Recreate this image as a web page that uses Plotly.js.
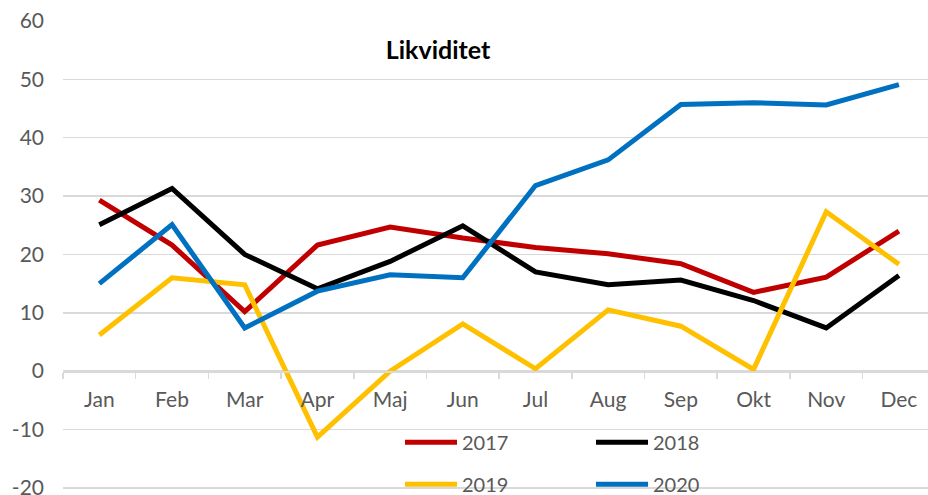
<!DOCTYPE html>
<html>
<head>
<meta charset="utf-8">
<script src="https://cdn.plot.ly/plotly-3.0.1.min.js"></script>
<style>html,body{margin:0;padding:0;background:#fff;}#chart{width:928px;height:495px;}</style>
</head>
<body>
<div id="chart"></div>
<script>
const months = ['Jan','Feb','Mar','Apr','Maj','Jun','Jul','Aug','Sep','Okt','Nov','Dec'];
const v2017 = [29.3, 21.6, 10.2, 21.6, 24.7, 22.8, 21.2, 20.1, 18.4, 13.5, 16.1, 24.0];
const v2018 = [25.1, 31.3, 20.0, 14.1, 18.8, 24.9, 17.0, 14.8, 15.6, 12.1, 7.4, 16.4];
const v2019 = [6.2, 16.0, 14.8, -11.3, 0.0, 8.1, 0.4, 10.5, 7.7, 0.3, 27.3, 18.3];
const v2020 = [15.0, 25.1, 7.4, 13.7, 16.5, 16.0, 31.8, 36.2, 45.7, 46.0, 45.6, 49.1];
const yTickVals = [-20, -10, 0, 10, 20, 30, 40, 50, 60];
const yTickText = ['-20', '-10', '0', '10', '20', '30', '40', '50', '60'];
const seriesNames = ['2017','2018','2019','2020'];
const seriesColors = ['#C00000','#000000','#FFC000','#0070C0'];
const seriesValues = [v2017, v2018, v2019, v2020];
const legendIds = ['legend','legend','legend2','legend2'];

const FONT = 'Lato, "Open Sans", sans-serif';
const traces = seriesValues.map((vals, i) => ({
  type: 'scatter', mode: 'lines', x: months, y: vals, name: seriesNames[i],
  legend: legendIds[i],
  line: {color: seriesColors[i], width: 5}
}));

const legendBase = {
  orientation: 'h', entrywidth: 124, entrywidthmode: 'pixels',
  bgcolor: 'rgba(0,0,0,0)', xanchor: 'left', yanchor: 'middle',
  font: {family: FONT, size: 20, color: '#595959'}, itemwidth: 52
};

const yMin = -20.2, yMax = 60;
const layout = {
  width: 928, height: 495,
  margin: {l: 63, r: 0, t: 21, b: 6.3, autoexpand: false},
  paper_bgcolor: '#fff', plot_bgcolor: '#fff',
  font: {family: FONT, size: 20, color: '#595959'},
  title: {text: '<b>Likviditet</b>', x: 0.472, y: 0.899, xanchor: 'center', yanchor: 'middle',
          font: {family: FONT, size: 25, color: '#000'}},
  showlegend: true,
  legend: Object.assign({x: 0.3896, y: 0.1}, legendBase),
  legend2: Object.assign({x: 0.3896, y: 0.01}, legendBase),
  xaxis: {
    type: 'category', anchor: 'free', position: (0 - yMin) / (yMax - yMin),
    range: [-0.5, 11.4], showgrid: false, zeroline: false,
    showline: true, linecolor: '#d9d9d9', linewidth: 1.5,
    ticks: 'outside', tickson: 'boundaries', ticklen: 6, tickcolor: '#d9d9d9', tickwidth: 1.5,
    ticklabelstandoff: 9,
    tickfont: {family: FONT, size: 21, color: '#595959'}
  },
  yaxis: {
    range: [yMin, yMax], tickmode: 'array', tickvals: yTickVals, ticktext: yTickText,
    showgrid: true, gridcolor: '#d9d9d9', gridwidth: 1.5,
    zeroline: false, showline: false, ticks: '',
    ticklabelstandoff: 18, ticklabeloverflow: 'allow',
    tickfont: {family: FONT, size: 21, color: '#595959'}
  }
};

Plotly.newPlot('chart', traces, layout, {displayModeBar: false, staticPlot: true});
</script>
</body>
</html>
